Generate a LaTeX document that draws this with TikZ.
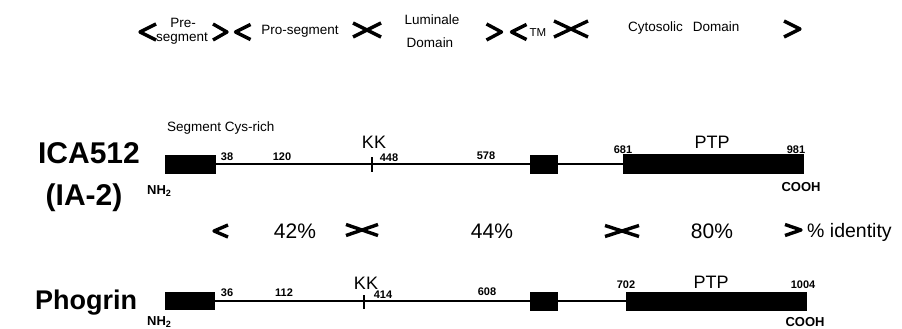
\documentclass[tikz,border=0pt]{standalone}
\usepackage{fontspec}
\setmainfont{Liberation Sans}
\newcommand\chevlt[4]{\draw[chev] ({#1+#3/2},{#2-#4/2}) -- ({#1-#3/2},#2) -- ({#1+#3/2},{#2+#4/2});}
\newcommand\chevgt[4]{\draw[chev] ({#1-#3/2},{#2-#4/2}) -- ({#1+#3/2},#2) -- ({#1-#3/2},{#2+#4/2});}
\newcommand\chevgtlt[4]{\draw[chev] ({#1-#3},{#2-#4/2}) -- (#1,#2) -- ({#1-#3},{#2+#4/2});
  \draw[chev] ({#1+#3},{#2-#4/2}) -- (#1,#2) -- ({#1+#3},{#2+#4/2});}
\begin{document}
\begin{tikzpicture}[x=1pt,y=-1pt,
  chev/.style={line width=3.4pt,line join=round,line cap=butt},
  seg/.style={fill=black,draw=none,inner sep=0pt,outer sep=0pt},
  prot/.style={line width=1.8pt},
  tickln/.style={line width=1.1pt},
  lbl/.style={inner sep=0pt,anchor=base},
  ttl/.style={lbl,font=\fontsize{30}{32}\selectfont\bfseries},
  ttlb/.style={lbl,font=\fontsize{27}{30}\selectfont\bfseries},
  num/.style={lbl,font=\fontsize{11}{12}\selectfont\bfseries},
  hdr/.style={lbl,font=\fontsize{13.5}{15}\selectfont},
  dom/.style={lbl,font=\fontsize{18}{20}\selectfont},
  pct/.style={lbl,font=\fontsize{21}{24}\selectfont},
  term/.style={lbl,font=\fontsize{13}{14}\selectfont\bfseries}]
\useasboundingbox (0,0) rectangle (902,329);
\fill[white] (0,0) rectangle (902,329);

% ---------- header ----------
\chevlt{148}{32}{16}{16}
\node[hdr] (pre1) at (183,28) {Pre-};
\node[hdr] (pre2) at (182,42) {segment};
\chevgt{220}{32}{14}{16}
\chevlt{243}{32}{15}{15}
\node[hdr] (proseg) at (300,35) {Pro-segment};
\chevgtlt{367}{30}{14}{14}
\node[hdr] (lum1) at (432,25) {Luminale};
\node[hdr] (lum2) at (430,48) {Domain};
\chevgt{494}{32}{15}{16}
\chevlt{519}{32}{15}{15}
\node[lbl,font=\fontsize{11.5}{13}\selectfont] (tm) at (538,37) {TM};
\chevgtlt{571}{29}{17}{16}
\node[hdr,anchor=base west] (cyto) at (628,32) {Cytosolic\hspace{10pt}Domain};
\chevgt{792}{29}{16}{16}

% ---------- ICA512 ----------
\node[ttl] (ica) at (89,163) {ICA512};
\node[ttl] (ia2) at (84,205) {(IA-2)};
\node[hdr,anchor=base west] (cys) at (167,131) {Segment Cys-rich};
\node[seg,minimum width=51pt,minimum height=19pt] (icaN) at (190.5,164) {};
\node[seg,minimum width=28pt,minimum height=19pt] (icaTM) at (544,164) {};
\node[seg,minimum width=181pt,minimum height=20pt] (icaPTP) at (713.5,164) {};
\draw[prot] (icaN.east) -- (icaTM.west);
\draw[prot] (icaTM.east) -- (icaPTP.west);
\coordinate (icaKKt) at (372,157);
\coordinate (icaKKb) at (372,172);
\draw[tickln] (icaKKt) -- (icaKKb);
\node[num] (i38) at (227,160) {38};
\node[num] (i120) at (282,160) {120};
\node[dom] (iKK) at (374,148) {KK};
\node[num] (i448) at (389,161) {448};
\node[num] (i578) at (486,159) {578};
\node[num] (i681) at (623,153.5) {681};
\node[dom] (iPTP) at (712,148) {PTP};
\node[num] (i981) at (796,153.5) {981};
\node[term,anchor=base west] (iNH) at (147,194) {NH\textsubscript{2}};
\node[term] (iCOOH) at (801,191) {COOH};

% ---------- % identity ----------
\chevlt{221}{231}{14}{12}
\node[pct] (p42) at (295,238) {42\%};
\chevgtlt{362}{230}{16}{11}
\node[pct] (p44) at (492,238) {44\%};
\chevgtlt{622}{231}{17}{11}
\node[pct] (p80) at (712,238) {80\%};
\chevgt{793}{230}{16}{11}
\node[lbl,anchor=base west,font=\fontsize{19.5}{22}\selectfont] (pid) at (807,237) {\% identity};

% ---------- Phogrin ----------
\node[ttlb] (pho) at (86,309) {Phogrin};
\node[seg,minimum width=50pt,minimum height=18pt] (phN) at (190,301) {};
\node[seg,minimum width=28pt,minimum height=19pt] (phTM) at (544,301) {};
\node[seg,minimum width=181pt,minimum height=19pt] (phPTP) at (716.5,301) {};
\draw[prot] (phN.east) -- (phTM.west);
\draw[prot] (phTM.east) -- (phPTP.west);
\coordinate (phKKt) at (364,295);
\coordinate (phKKb) at (364,309);
\draw[tickln] (phKKt) -- (phKKb);
\node[num] (p36) at (227,296) {36};
\node[num] (p112) at (284,296) {112};
\node[dom] (pKK) at (366,289) {KK};
\node[num] (p414) at (383,298) {414};
\node[num] (p608) at (487,295) {608};
\node[num] (p702) at (626,288) {702};
\node[dom] (pPTP) at (711,288) {PTP};
\node[num] (p1004) at (803,288) {1004};
\node[term,anchor=base west] (pNH) at (147,325) {NH\textsubscript{2}};
\node[term] (pCOOH) at (805,326) {COOH};
\end{tikzpicture}
\end{document}
